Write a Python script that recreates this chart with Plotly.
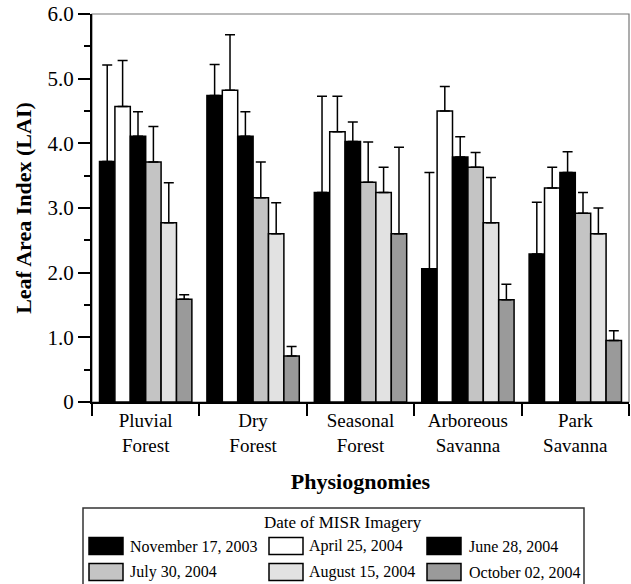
import plotly.graph_objects as go

categories = ["Pluvial<br>Forest", "Dry<br>Forest", "Seasonal<br>Forest",
              "Arboreous<br>Savanna", "Park<br>Savanna"]

dates = ["November 17, 2003", "April 25, 2004", "June 28, 2004",
         "July 30, 2004", "August 15, 2004", "October 02, 2004"]

# mean LAI per date, one value per physiognomy
lai_nov03 = [3.72, 4.74, 3.24, 2.06, 2.29]
lai_apr04 = [4.57, 4.82, 4.18, 4.50, 3.31]
lai_jun04 = [4.11, 4.11, 4.03, 3.79, 3.55]
lai_jul04 = [3.71, 3.16, 3.40, 3.63, 2.92]
lai_aug04 = [2.77, 2.60, 3.24, 2.77, 2.60]
lai_oct04 = [1.59, 0.71, 2.60, 1.58, 0.95]

# upper error (standard deviation)
err_nov03 = [1.49, 0.48, 1.49, 1.49, 0.80]
err_apr04 = [0.71, 0.86, 0.55, 0.38, 0.32]
err_jun04 = [0.38, 0.38, 0.30, 0.31, 0.32]
err_jul04 = [0.55, 0.55, 0.62, 0.23, 0.32]
err_aug04 = [0.62, 0.48, 0.39, 0.70, 0.40]
err_oct04 = [0.07, 0.15, 1.34, 0.24, 0.15]

values = [lai_nov03, lai_apr04, lai_jun04, lai_jul04, lai_aug04, lai_oct04]
errors = [err_nov03, err_apr04, err_jun04, err_jul04, err_aug04, err_oct04]
colors = ["#000000", "#ffffff", "#000000", "#c4c4c4", "#e2e2e2", "#9a9a9a"]

y_tickvals = [0, 1, 2, 3, 4, 5, 6]
y_ticktext = ["0", "1.0", "2.0", "3.0", "4.0", "5.0", "6.0"]

legend_title = "Date of MISR Imagery"

FONT = "Liberation Serif, Times New Roman, serif"

fig = go.Figure()
for name, v, e, c in zip(dates, values, errors, colors):
    fig.add_trace(go.Bar(
        x=categories, y=v, name=name, showlegend=False,
        marker=dict(color=c, line=dict(color="#000000", width=1.5)),
        error_y=dict(type="data", array=e, arrayminus=[0] * len(e),
                     symmetric=False, color="#000000", thickness=1.5, width=5),
    ))

# ---- layout geometry (pixels) ----
W, H = 631, 584
PX0, PX1, PY0, PY1 = 92, 629, 14, 402   # plot area


def px(x):
    return (x - PX0) / (PX1 - PX0)


def py(y):
    return (PY1 - y) / (PY1 - PY0)


shapes = [dict(type="rect", xref="paper", yref="paper", x0=0, x1=1, y0=0, y1=1,
               line=dict(color="#777777", width=1.2), layer="below")]
annotations = []

# legend box (bottom edge runs off the figure, as in the original)
shapes.append(dict(type="rect", xref="paper", yref="paper",
                   x0=px(83), x1=px(584), y0=py(600), y1=py(508),
                   line=dict(color="#333333", width=1.5), fillcolor="white",
                   layer="above"))
annotations.append(dict(text=legend_title, xref="paper", yref="paper",
                        x=px(343), y=py(522), xanchor="center", yanchor="middle",
                        showarrow=False, font=dict(family=FONT, size=17)))

col_sw = [89, 269, 427]
col_tx = [128, 307, 467]
row_y = [546, 572]
for i, (name, c) in enumerate(zip(dates, colors)):
    r, k = divmod(i, 3)
    yc = row_y[r]
    shapes.append(dict(type="rect", xref="paper", yref="paper",
                       x0=px(col_sw[k]), x1=px(col_sw[k] + 34),
                       y0=py(yc + 8.5), y1=py(yc - 8.5),
                       line=dict(color="#000000", width=1.5), fillcolor=c,
                       layer="above"))
    annotations.append(dict(text=name, xref="paper", yref="paper",
                            x=px(col_tx[k]), y=py(yc), xanchor="left",
                            yanchor="middle", showarrow=False,
                            font=dict(family=FONT, size=16)))

fig.update_layout(
    width=W, height=H,
    margin=dict(l=PX0, r=W - PX1, t=PY0, b=H - PY1, autoexpand=False),
    paper_bgcolor="white", plot_bgcolor="white",
    font=dict(family=FONT, color="#000000", size=19),
    barmode="group", bargap=0.14, bargroupgap=0,
    showlegend=False,
    shapes=shapes, annotations=annotations,
)

fig.update_xaxes(
    automargin=False,
    showline=True, linecolor="#000000", linewidth=2,
    ticks="outside", tickson="boundaries", ticklen=12, tickwidth=1.5,
    tickcolor="#000000", tickfont=dict(size=19),
    title=dict(text="<b>Physiognomies</b>", font=dict(size=22), standoff=19),
    showgrid=False, zeroline=False,
)
fig.update_yaxes(
    automargin=False, ticklabeloverflow="allow",
    range=[0, 6], tickvals=y_tickvals, ticktext=y_ticktext,
    showline=True, linecolor="#000000", linewidth=2,
    ticks="outside", ticklen=12, tickwidth=1.5, tickcolor="#000000",
    tickfont=dict(size=21),
    minor=dict(ticks="outside", ticklen=6, tickwidth=1.5, tickcolor="#000000",
               dtick=0.5, showgrid=False),
    title=dict(text="<b>Leaf Area Index (LAI)</b>", font=dict(size=22), standoff=10),
    showgrid=False, zeroline=False,
)

# remove the browser's default 8px body margin so the figure fills the window
fig.write_html("out.html",
               config={"displayModeBar": False},
               post_script="document.body.style.margin='0px';"
                           "document.body.style.overflow='hidden';")
